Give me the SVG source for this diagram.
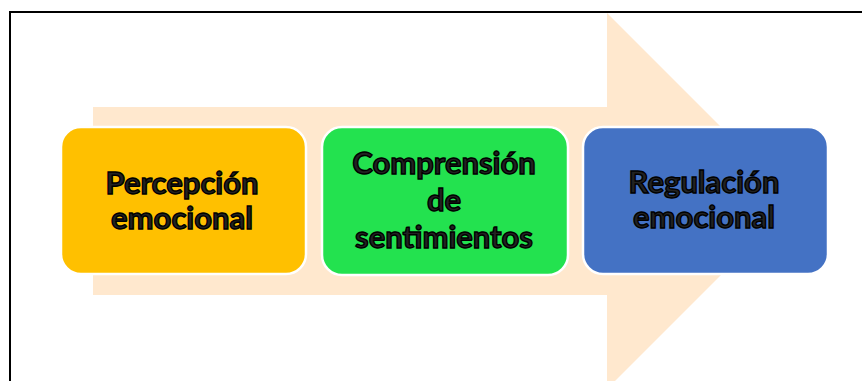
<svg xmlns="http://www.w3.org/2000/svg" width="862" height="381" viewBox="0 0 862 381">
<style>
.box{stroke:#ffffff;stroke-width:2.5}
.lbl{font-family:Lato,"Liberation Sans",sans-serif;font-weight:bold;font-size:31px;fill:#222;stroke:#000;stroke-width:1.4;text-anchor:middle}
</style>
<rect width="862" height="381" fill="#ffffff"/>
<g id="arrow">
<polygon points="93,107 607,107 607,13 795,201 607,389 607,295 93,295" fill="#FFE8CE"/>
</g>
<g id="frame" stroke="#000" stroke-width="2" fill="none">
<line x1="9" y1="12" x2="862" y2="12"/>
<line x1="10" y1="11" x2="10" y2="381"/>
</g>
<g id="node1">
<rect class="box" x="61" y="127" width="245" height="147" rx="20" fill="#FFC000"/>
<text class="lbl" x="182" y="194">Percepción</text>
<text class="lbl" x="182" y="229">emocional</text>
</g>
<g id="node2">
<rect class="box" x="322" y="127" width="246" height="148" rx="20" fill="#23E24F"/>
<text class="lbl" x="444" y="174">Comprensión</text>
<text class="lbl" x="444" y="211">de</text>
<text class="lbl" x="444" y="248">sentimientos</text>
</g>
<g id="node3">
<rect class="box" x="583" y="127" width="245" height="147" rx="20" fill="#4472C4"/>
<text class="lbl" x="704" y="193">Regulación</text>
<text class="lbl" x="704" y="228">emocional</text>
</g>
<g id="connectors"></g>
</svg>
